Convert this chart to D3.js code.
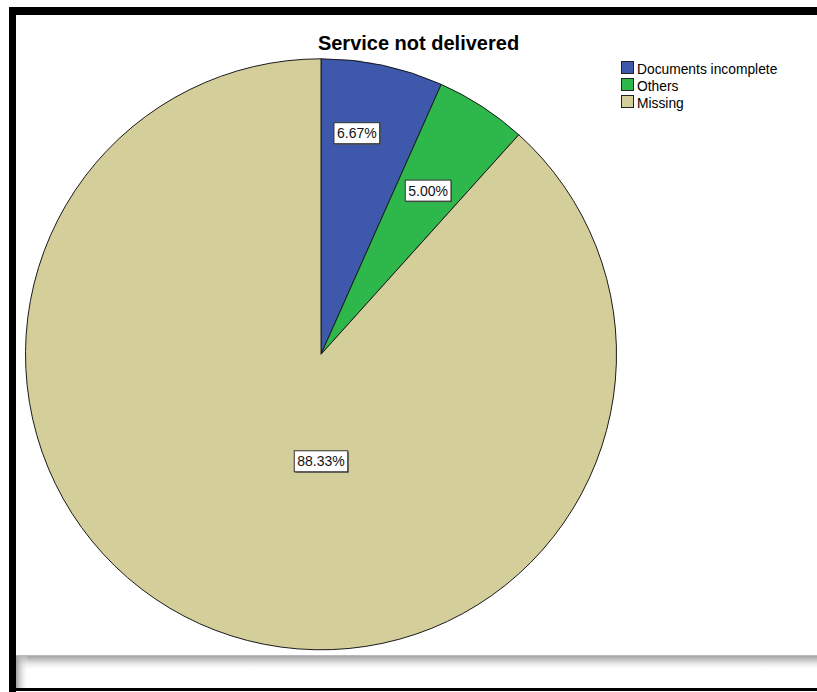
<!DOCTYPE html>
<html>
<head>
<meta charset="utf-8">
<script src="https://cdn.jsdelivr.net/npm/d3@7"></script>
<style>
  html, body { margin: 0; padding: 0; background: #fff; }
  svg { display: block; }
  text { font-family: "Liberation Sans", Arial, sans-serif; }
</style>
</head>
<body>
<svg id="chart" width="817" height="692"></svg>
<script>
// Chart data
const categories = ["Documents incomplete", "Others", "Missing"];
const percentages = [6.67, 5.00, 88.33];
const sliceColors = ["#3E58AC", "#2EB84B", "#D4CF9A"];
const chartTitle = "Service not delivered";

// Where each value label sits: polar offset from the pie centre
// (degrees clockwise from 12 o'clock, fraction of the radius)
const labelSpots = [
  { angle: 9.2, frac: 0.758 },
  { angle: 33.2, frac: 0.662 },
  { angle: 180, frac: 0.362 }
];

const W = 817, H = 692;
const svg = d3.select("#chart");

const defs = svg.append("defs");
const gTop = defs.append("linearGradient").attr("id", "bandTop")
  .attr("x1", 0).attr("y1", 0).attr("x2", 0).attr("y2", 1);
gTop.append("stop").attr("offset", 0).attr("stop-color", "#9a9a9a");
gTop.append("stop").attr("offset", 0.5).attr("stop-color", "#e2e2e2");
gTop.append("stop").attr("offset", 1).attr("stop-color", "#ffffff").attr("stop-opacity", 0);
const gLeft = defs.append("linearGradient").attr("id", "bandLeft")
  .attr("x1", 0).attr("y1", 0).attr("x2", 1).attr("y2", 0);
gLeft.append("stop").attr("offset", 0).attr("stop-color", "#a0a0a0");
gLeft.append("stop").attr("offset", 1).attr("stop-color", "#ffffff").attr("stop-opacity", 0);

// Window frame
svg.append("rect").attr("x", 9).attr("y", 7).attr("width", 7).attr("height", H - 7).attr("fill", "#000");
svg.append("rect").attr("x", 9).attr("y", 7).attr("width", W - 9).attr("height", 8).attr("fill", "#000");
svg.append("rect").attr("x", 16).attr("y", 655).attr("width", W - 16).attr("height", 16).attr("fill", "url(#bandTop)");
svg.append("rect").attr("x", 16).attr("y", 655).attr("width", 13).attr("height", 33).attr("fill", "url(#bandLeft)");
svg.append("line").attr("x1", 16).attr("x2", W).attr("y1", 655.5).attr("y2", 655.5)
  .attr("stroke", "#b8b8b8").attr("stroke-width", 1);
svg.append("rect").attr("x", 9).attr("y", 688).attr("width", W - 9).attr("height", 3).attr("fill", "#000");

// Title
svg.append("text")
  .attr("x", 418.5).attr("y", 50)
  .attr("text-anchor", "middle")
  .attr("font-size", 20).attr("font-weight", "bold")
  .attr("fill", "#000")
  .text(chartTitle);

// Pie
const cx = 321, cy = 354.3, radius = 295.5;
const color = d3.scaleOrdinal().domain(categories).range(sliceColors);
const pie = d3.pie().sort(null).value(d => d.value);
const arc = d3.arc().innerRadius(0).outerRadius(radius);
const data = categories.map((c, i) => ({ name: c, value: percentages[i] }));
const arcs = pie(data);

const g = svg.append("g").attr("transform", `translate(${cx},${cy})`);
g.selectAll("path.slice")
  .data(arcs)
  .join("path")
  .attr("class", "slice")
  .attr("d", arc)
  .attr("fill", d => color(d.data.name))
  .attr("stroke", "#1a1a1a")
  .attr("stroke-width", 1);

// Value labels in boxes
const fmt = d3.format(".2f");
const labels = g.selectAll("g.vlabel")
  .data(arcs)
  .join("g")
  .attr("class", "vlabel")
  .attr("transform", (d, i) => {
    const a = labelSpots[i].angle * Math.PI / 180;
    const r = labelSpots[i].frac * radius;
    return `translate(${r * Math.sin(a)},${-r * Math.cos(a)})`;
  });

labels.each(function(d) {
  const sel = d3.select(this);
  const txt = sel.append("text")
    .attr("text-anchor", "middle")
    .attr("y", 5)
    .attr("font-size", 14)
    .attr("fill", "#111")
    .text(fmt(d.data.value) + "%");
  const bb = txt.node().getBBox();
  const w = bb.width + 6, h = 21;
  sel.insert("rect", "text")
    .attr("x", -w / 2 + 1).attr("y", -h / 2 + 1)
    .attr("width", w).attr("height", h)
    .attr("fill", "#555");
  sel.insert("rect", "text")
    .attr("x", -w / 2).attr("y", -h / 2)
    .attr("width", w).attr("height", h)
    .attr("fill", "#fff")
    .attr("stroke", "#333").attr("stroke-width", 1);
});

// Legend
const legend = svg.append("g").attr("transform", "translate(621,61)");
const rows = legend.selectAll("g")
  .data(categories)
  .join("g")
  .attr("transform", (d, i) => `translate(0,${i * 17})`);
rows.append("rect")
  .attr("x", 0.5).attr("y", 0.5)
  .attr("width", 12).attr("height", 12)
  .attr("fill", d => color(d))
  .attr("stroke", "#222").attr("stroke-width", 1);
rows.append("text")
  .attr("x", 16).attr("y", 12.5)
  .attr("font-size", 13.8)
  .attr("fill", "#000")
  .text(d => d);
</script>
</body>
</html>
